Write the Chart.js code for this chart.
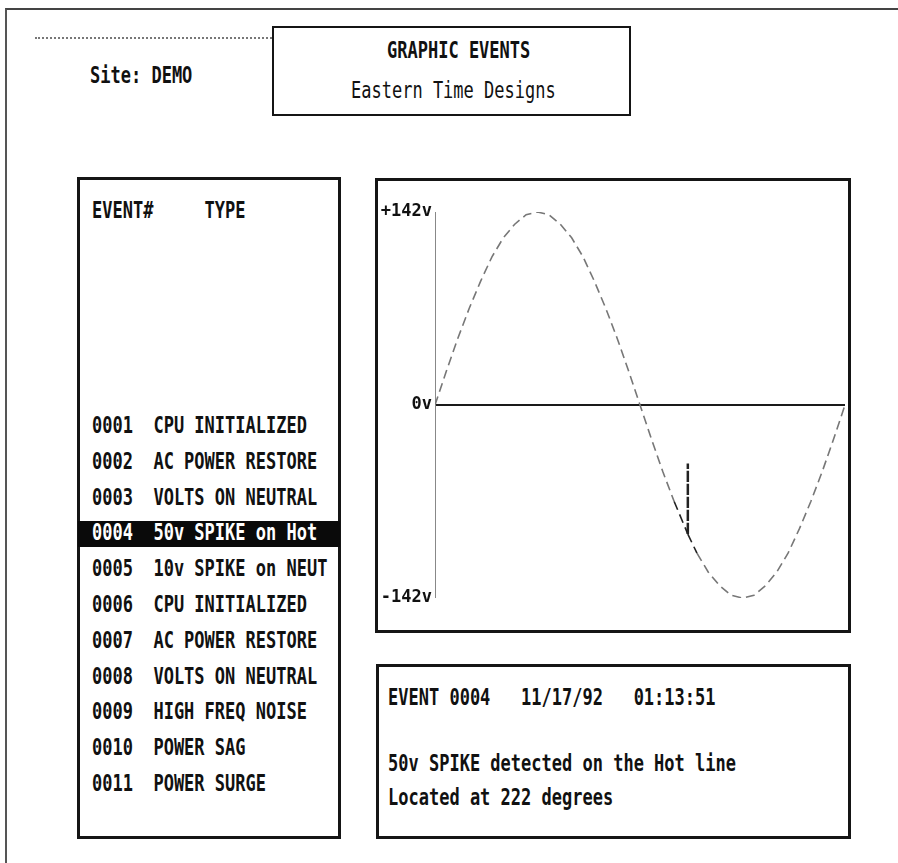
<!DOCTYPE html>
<html>
<head>
<meta charset="utf-8">
<script src="https://cdn.jsdelivr.net/npm/chart.js@4"></script>
<style>
  html, body { margin: 0; padding: 0; background: #fff; }
  #page { position: relative; width: 898px; height: 863px; overflow: hidden; background: #fff; }
  .frame { position: absolute; left: 5px; top: 8px; width: 900px; height: 870px;
           border-left: 2px solid #555; border-top: 2px solid #444; }
  .box { position: absolute; border: 3px solid #151515; box-sizing: border-box; background: #fff; }
  .t { position: absolute; font: bold 17px "DejaVu Sans Mono", monospace; color: #111;
       white-space: pre; line-height: 20px; height: 20px;
       transform: scaleY(1.4); transform-origin: left center; }
  .thin { font-weight: normal; }
  .hl { position: absolute; left: 78px; width: 262px; top: 521px; height: 26px; background: #0a0a0a; }
  #chartWrap { position: absolute; left: 378px; top: 181px; width: 470px; height: 449px; }
</style>
</head>
<body>
<div id="page">
  <div class="frame"></div>
  <div style="position:absolute;left:35px;top:37px;width:240px;border-top:2px dotted #777;"></div>
  <div class="t" style="left:90px;top:65px;">Site: DEMO</div>

  <div class="box" style="left:272px;top:26px;width:359px;height:90px;border-width:2px;"></div>
  <div class="t" style="left:387px;top:40px;">GRAPHIC EVENTS</div>
  <div class="t thin" style="left:351px;top:80px;">Eastern Time Designs</div>

  <div class="box" style="left:77px;top:177px;width:264px;height:662px;"></div>
  <div class="t" style="left:92px;top:200px;">EVENT#     TYPE</div>
  <div id="rows"></div>

  <div class="box" style="left:375px;top:178px;width:476px;height:455px;"></div>
  <div id="chartWrap"><canvas id="wave"></canvas></div>

  <div class="box" style="left:376px;top:664px;width:475px;height:175px;"></div>
  <div class="t" style="left:388px;top:687px;">EVENT 0004   11/17/92   01:13:51</div>
  <div class="t" style="left:388px;top:753px;">50v SPIKE detected on the Hot line</div>
  <div class="t" style="left:388px;top:787px;">Located at 222 degrees</div>
</div>

<script>
// event list
const eventNums = ['0001','0002','0003','0004','0005','0006','0007','0008','0009','0010','0011'];
const eventTypes = ['CPU INITIALIZED','AC POWER RESTORE','VOLTS ON NEUTRAL','50v SPIKE on Hot',
  '10v SPIKE on NEUT','CPU INITIALIZED','AC POWER RESTORE','VOLTS ON NEUTRAL',
  'HIGH FREQ NOISE','POWER SAG','POWER SURGE'];
const selectedEvent = 3;

// waveform (degrees -> volts), spike at 222 deg
const angleDeg = [0,10,20,30,40,50,60,70,80,90,100,110,120,130,140,150,160,170,180,
  190,200,210,220,222,222,222,230,240,250,260,270,280,290,300,310,320,330,340,350,360];
const hotVolts = [0,25,49,71,91,109,123,133,140,142,140,133,123,109,91,71,49,25,0,
  -25,-49,-71,-91,-95,-43,-95,-109,-123,-133,-140,-142,-140,-133,-123,-109,-91,-71,-49,-25,0];
const spikeAt = 222;

const yTicks = [-142, 0, 142];
const yTickLabels = ['-142v', '0v', '+142v'];

const rows = document.getElementById('rows');
if (selectedEvent >= 0) {
  const bar = document.createElement('div');
  bar.className = 'hl';
  rows.appendChild(bar);
}
eventNums.forEach((n, i) => {
  const d = document.createElement('div');
  d.className = 't';
  d.style.left = '92px';
  d.style.top = (415 + i * 35.8) + 'px';
  d.textContent = n + '  ' + eventTypes[i];
  if (i === selectedEvent) d.style.color = '#fff';
  rows.appendChild(d);
});

// darker stroke right where the spike hits
const nearSpike = c => c.p1.parsed.x > spikeAt - 12 && c.p0.parsed.x <= spikeAt;

new Chart(document.getElementById('wave'), {
  type: 'line',
  data: {
    datasets: [{
      data: angleDeg.map((a, i) => ({x: a, y: hotVolts[i]})),
      borderColor: '#777',
      borderWidth: 1.6,
      borderDash: [9, 5],
      pointRadius: 0,
      tension: 0,
      fill: false,
      segment: {
        borderColor: c => nearSpike(c) ? '#222' : undefined,
        borderWidth: c => c.p0.parsed.x === c.p1.parsed.x ? 2.5 : undefined,
        borderDash: c => c.p0.parsed.x === c.p1.parsed.x ? [10, 3] : undefined
      }
    }]
  },
  options: {
    responsive: true,
    maintainAspectRatio: false,
    animation: false,
    layout: {padding: {top: 31, bottom: 32, right: 3, left: 0}},
    plugins: {legend: {display: false}, tooltip: {enabled: false}},
    scales: {
      x: {type: 'linear', min: 0, max: 360, display: false},
      y: {
        min: -142, max: 142,
        afterBuildTicks: s => { s.ticks = yTicks.map(v => ({value: v})); },
        afterFit: s => { s.width = 57; },
        border: {display: true, color: '#888', width: 1},
        grid: {
          drawTicks: false,
          color: c => (c.tick && c.tick.value === 0) ? '#1a1a1a' : 'rgba(0,0,0,0)',
          lineWidth: c => (c.tick && c.tick.value === 0) ? 2 : 0
        },
        ticks: {
          padding: 3,
          color: '#111',
          font: {family: 'DejaVu Sans Mono', size: 17, weight: 'bold'},
          callback: v => yTickLabels[yTicks.indexOf(v)]
        }
      }
    }
  }
});
</script>
</body>
</html>
